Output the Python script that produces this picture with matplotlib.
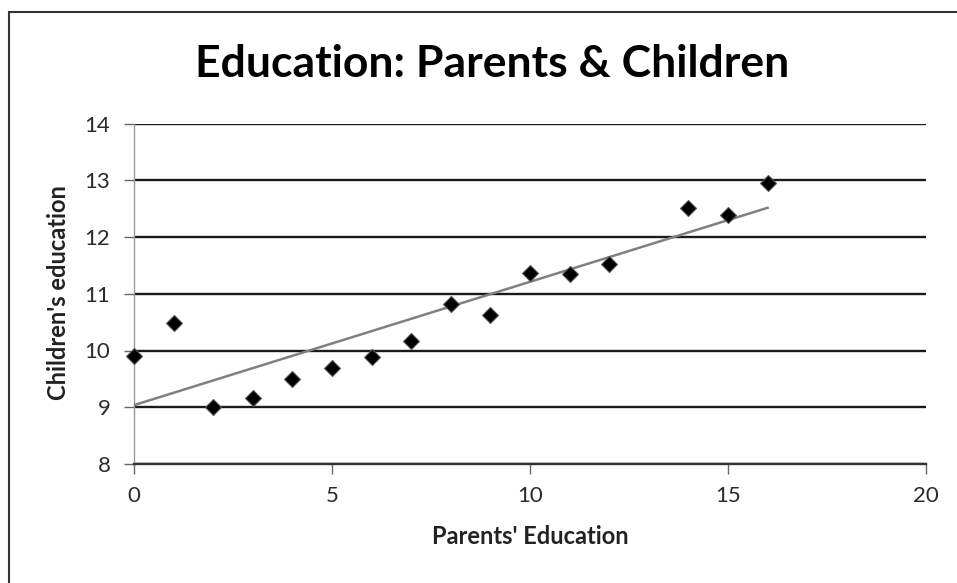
import numpy as np
import matplotlib
matplotlib.use("Agg")
import matplotlib.pyplot as plt
from matplotlib.patches import Rectangle

parents_edu = [0, 1, 2, 3, 4, 5, 6, 7, 8, 9, 10, 11, 12, 14, 15, 16]
children_edu = [9.91, 10.48, 9.01, 9.17, 9.50, 9.69, 9.88, 10.16, 10.82,
                10.63, 11.36, 11.34, 11.53, 12.51, 12.38, 12.96]
x_ticks = [0, 5, 10, 15, 20]
y_ticks = [8, 9, 10, 11, 12, 13, 14]

plt.rcParams['font.family'] = ['Lato', 'DejaVu Sans']

W, H = 957, 583
fig = plt.figure(figsize=(W / 100, H / 100), dpi=100)
fig.patch.set_facecolor('white')

# outer chart frame
fig.add_artist(Rectangle((9 / W, -0.05), 1.2, 1 - 12 / H + 0.05,
                         transform=fig.transFigure, fill=False,
                         edgecolor='#333333', linewidth=1.5))

ax = fig.add_axes([134 / W, 1 - 464 / H, (926 - 134) / W, (464 - 123.5) / H])
ax.set_xlim(0, 20)
ax.set_ylim(8, 14)
ax.set_xticks(x_ticks)
ax.set_yticks(y_ticks)

ax.yaxis.grid(True, color='#1a1a1a', linewidth=1.7)
ax.set_axisbelow(True)
for s in ['top', 'right']:
    ax.spines[s].set_visible(False)
ax.spines['left'].set_color('#999999')
ax.spines['left'].set_linewidth(1.0)
ax.spines['bottom'].set_color('#333333')
ax.spines['bottom'].set_linewidth(1.7)

ax.tick_params(axis='both', direction='out', length=7, width=1,
               color='#666666', labelsize=16, labelcolor='#2a2a2a')
ax.tick_params(axis='y', pad=10)
ax.tick_params(axis='x', pad=9)

# trend line (least squares fit of the data)
coef = np.polyfit(parents_edu, children_edu, 1)
xs = np.array([min(parents_edu), max(parents_edu)])
ax.plot(xs, np.polyval(coef, xs), color='#808080', linewidth=1.8, zorder=3)

ax.plot(parents_edu, children_edu, linestyle='none', marker='D',
        markersize=8.5, color='black', markeredgecolor='#555555',
        markeredgewidth=0.8, zorder=4, clip_on=False)

fig.text(492 / W, 1 - 64 / H, 'Education: Parents & Children',
         ha='center', va='center', fontsize=32, fontweight='bold', color='black')
fig.text(530 / W, 1 - 537 / H, "Parents' Education", ha='center', va='center',
         fontsize=17, fontweight='bold', color='#222222')
fig.text(59 / W, 1 - 293 / H, "Children's education", ha='center', va='center',
         rotation=90, fontsize=17, fontweight='bold', color='#222222')

fig.savefig('out.png', dpi=100, facecolor='white')
